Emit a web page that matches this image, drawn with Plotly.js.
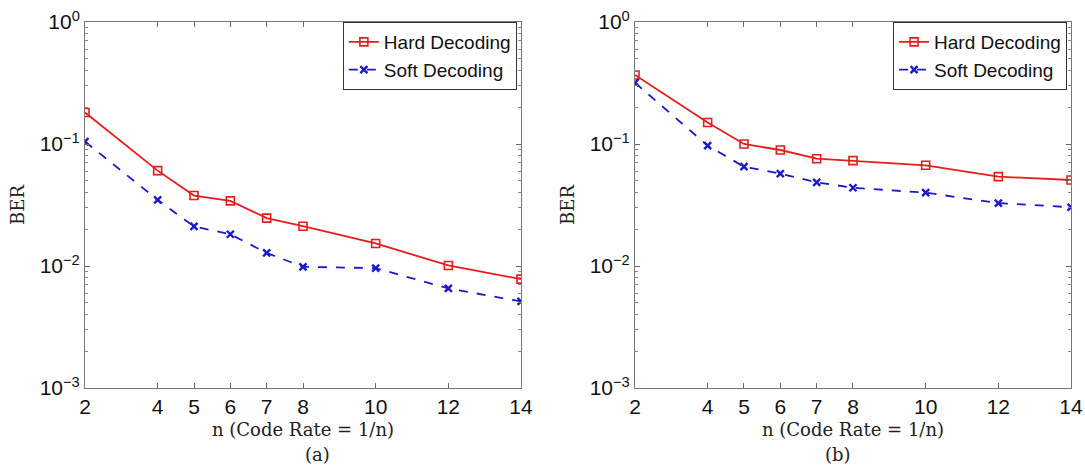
<!DOCTYPE html>
<html>
<head>
<meta charset="utf-8">
<script src="https://cdn.plot.ly/plotly-3.0.1.min.js"></script>
<style>html,body{margin:0;padding:0;background:#fff;}#chart{width:1085px;height:466px;}</style>
</head>
<body>
<div id="chart"></div>
<script>
// Data
const nValues = [2, 4, 5, 6, 7, 8, 10, 12, 14];
const hardA = [0.181, 0.0605, 0.0378, 0.0342, 0.0247, 0.0212, 0.0153, 0.0101, 0.0078];
const softA = [0.1047, 0.0348, 0.0211, 0.0182, 0.0128, 0.00985, 0.0096, 0.00655, 0.00512];
const hardB = [0.368, 0.150, 0.100, 0.0893, 0.0758, 0.0730, 0.0669, 0.0540, 0.0507];
const softB = [0.318, 0.0969, 0.0652, 0.0571, 0.0485, 0.0438, 0.0399, 0.0328, 0.0303];
const yTickVals = [1, 0.1, 0.01, 0.001];
const yTickText = ['10<sup>0</sup>', '10<sup>−1</sup>', '10<sup>−2</sup>', '10<sup>−3</sup>'];
const seriesNames = ['Hard Decoding', 'Soft Decoding'];
const xTitle = 'n (Code Rate = 1/n)';
const yTitle = 'BER';
const panelLabels = ['(a)', '(b)'];

const RED = '#e81c1c';
const BLUE = '#1a1acc';
const tickFont = {family: 'Liberation Sans, Arial, sans-serif', size: 21, color: '#111'};
const legendFont = {family: 'Liberation Sans, Arial, sans-serif', size: 19, color: '#111'};
const serifFont = {family: 'DejaVu Serif, serif', size: 18, color: '#222'};

function hard(y, xa, ya, lg) {
  return {x: nValues, y: y, xaxis: xa, yaxis: ya, legend: lg, name: seriesNames[0], showlegend: true,
    mode: 'lines+markers', line: {color: RED, width: 1.8},
    marker: {symbol: 'square-open', size: 8, color: RED, line: {width: 1.6, color: RED}}};
}
function soft(y, xa, ya, lg) {
  return {x: nValues, y: y, xaxis: xa, yaxis: ya, legend: lg, name: seriesNames[1], showlegend: true,
    mode: 'lines+markers', line: {color: BLUE, width: 1.8, dash: 'dash'},
    marker: {symbol: 'x-thin', size: 7, color: BLUE, line: {width: 2.4, color: BLUE}}};
}

const traces = [
  hard(hardA, 'x', 'y', 'legend'), soft(softA, 'x', 'y', 'legend'),
  hard(hardB, 'x2', 'y2', 'legend2'), soft(softB, 'x2', 'y2', 'legend2')
];

function xax(dom, anchor) {
  return {domain: dom, anchor: anchor, range: [2, 14], tickvals: nValues, ticktext: nValues.map(String),
    ticks: 'inside', ticklen: 5, tickcolor: '#666', mirror: 'ticks', showline: true, linecolor: '#777', linewidth: 1,
    showgrid: false, zeroline: false, tickfont: tickFont,
    title: {text: xTitle, font: serifFont, standoff: 6}};
}
function yax(anchor) {
  return {anchor: anchor, type: 'log', range: [-3, 0], tickvals: yTickVals, ticktext: yTickText,
    ticks: 'inside', ticklen: 5, tickcolor: '#666', mirror: 'ticks', showline: true, linecolor: '#777', linewidth: 1,
    showgrid: false, zeroline: false, tickfont: tickFont,
    minor: {ticks: 'inside', ticklen: 3, tickcolor: '#888', dtick: 'D1', showgrid: false},
    title: {text: yTitle, font: serifFont, standoff: 10}};
}

const legendBase = {bgcolor: '#fff', bordercolor: '#333', borderwidth: 1, font: legendFont,
  xanchor: 'right', yanchor: 'top', y: 1.0, tracegroupgap: 0};

const layout = {
  width: 1085, height: 466,
  margin: {l: 85, r: 14, t: 22, b: 78},
  paper_bgcolor: '#fff', plot_bgcolor: '#fff',
  xaxis: xax([0, 0.4422], 'y'),
  yaxis: yax('x'),
  xaxis2: xax([0.5578, 1], 'y2'),
  yaxis2: yax('x2'),
  legend: Object.assign({}, legendBase, {x: 0.438}),
  legend2: Object.assign({}, legendBase, {x: 0.996}),
  annotations: [
    {text: panelLabels[0], xref: 'paper', yref: 'paper', x: 0.4422 / 2, y: -0.183, yanchor: 'middle', showarrow: false, font: serifFont},
    {text: panelLabels[1], xref: 'paper', yref: 'paper', x: (0.5578 + 1) / 2, y: -0.183, yanchor: 'middle', showarrow: false, font: serifFont}
  ]
};

Plotly.newPlot('chart', traces, layout, {displayModeBar: false, staticPlot: true});
</script>
</body>
</html>
